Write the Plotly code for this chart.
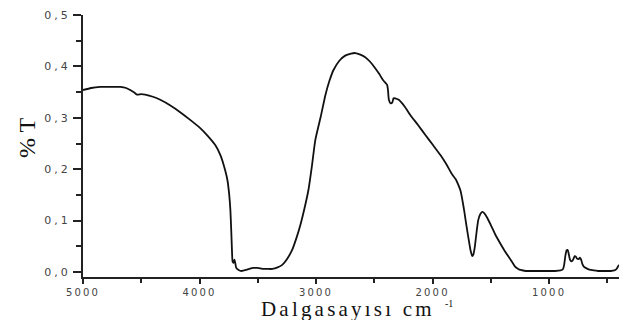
import plotly.graph_objects as go

# Wavenumber (cm^-1) and transmittance values
wavenumber = [5000, 4930, 4852, 4760, 4680, 4630, 4595, 4560, 4535, 4500, 4466, 4400, 4337,
              4250, 4166, 4080, 3994, 3930, 3865, 3820, 3780, 3760, 3745, 3735, 3728, 3722,
              3716, 3708, 3700, 3692, 3685, 3665, 3640, 3600, 3560, 3540, 3500, 3460, 3420,
              3375, 3330, 3290, 3250, 3205, 3170, 3135, 3100, 3065, 3035, 3006, 2960, 2920,
              2885, 2850, 2800, 2750, 2700, 2663, 2620, 2578, 2540, 2500, 2460, 2424, 2400,
              2390, 2383, 2375, 2360, 2345, 2335, 2320, 2290, 2240, 2190, 2125, 2060, 2000,
              1934, 1880, 1830, 1800, 1778, 1760, 1744, 1727, 1710, 1692, 1675, 1667, 1660,
              1650, 1640, 1634, 1620, 1608, 1590, 1573, 1555, 1530, 1495, 1460, 1420, 1375,
              1330, 1290, 1265, 1245, 1200, 1160, 1100, 1000, 950, 902, 880, 870, 860, 850,
              841, 832, 822, 812, 800, 790, 780, 770, 760, 746, 735, 725, 715, 700, 686,
              660, 640, 617, 580, 540, 500, 470, 440, 425, 415, 408, 402, 400]
transmittance = [0.354, 0.358, 0.360, 0.360, 0.360, 0.358, 0.354, 0.349, 0.345, 0.346, 0.345,
                 0.341, 0.335, 0.324, 0.311, 0.296, 0.280, 0.265, 0.247, 0.227, 0.198, 0.178,
                 0.150, 0.120, 0.082, 0.045, 0.020, 0.018, 0.024, 0.016, 0.008, 0.004, 0.002,
                 0.004, 0.007, 0.008, 0.008, 0.006, 0.006, 0.006, 0.009, 0.014, 0.025, 0.043,
                 0.065, 0.091, 0.123, 0.160, 0.207, 0.257, 0.302, 0.344, 0.372, 0.393, 0.411,
                 0.421, 0.425, 0.426, 0.423, 0.418, 0.410, 0.399, 0.386, 0.373, 0.367, 0.364,
                 0.355, 0.335, 0.328, 0.330, 0.338, 0.338, 0.335, 0.322, 0.305, 0.286, 0.266,
                 0.248, 0.228, 0.209, 0.189, 0.180, 0.169, 0.158, 0.140, 0.117, 0.091, 0.066,
                 0.043, 0.036, 0.031, 0.034, 0.045, 0.055, 0.082, 0.101, 0.113, 0.117, 0.114,
                 0.105, 0.089, 0.072, 0.056, 0.039, 0.024, 0.010, 0.006, 0.004, 0.002, 0.002,
                 0.002, 0.002, 0.002, 0.003, 0.006, 0.015, 0.032, 0.042, 0.043, 0.036, 0.025,
                 0.021, 0.022, 0.026, 0.031, 0.030, 0.026, 0.025, 0.028, 0.024, 0.016, 0.010,
                 0.008, 0.005, 0.004, 0.003, 0.002, 0.002, 0.002, 0.002, 0.003, 0.005, 0.008,
                 0.011, 0.013, 0.013]

x_tick_vals = [5000, 4000, 3000, 2000, 1000]
x_tick_text = ["5000", "4000", "3000", "2000", "1000"]
y_tick_vals = [0.0, 0.1, 0.2, 0.3, 0.4, 0.5]
y_tick_text = ["0,0", "0,1", "0,2", "0,3", "0,4", "0,5"]
x_minor_vals = [4500, 3500, 2500, 1500, 500]
y_minor_vals = [0.05, 0.15, 0.25, 0.35, 0.45]

x_title = "Dalgasayısı cm"
x_title_sup = "-1"
y_title = "% T"

serif = "Liberation Serif, Times New Roman, serif"


def spaced(t, px):
    return "<span style='letter-spacing:%spx'>%s</span>" % (px, t)


fig = go.Figure()
fig.add_trace(go.Scatter(x=wavenumber, y=transmittance, mode="lines",
                         line=dict(color="#111111", width=1.8, shape="spline", smoothing=0.5),
                         hoverinfo="skip", showlegend=False))

axis_common = dict(showgrid=False, zeroline=False, showline=True, linecolor="#222222",
                   linewidth=2, ticks="outside", tickcolor="#222222", tickwidth=1.5)

fig.update_xaxes(range=[5000, 400], tickmode="array", tickvals=x_tick_vals,
                 ticktext=[spaced(t, 2.2) for t in x_tick_text], ticklen=5,
                 tickfont=dict(family="DejaVu Sans, Arial", size=10, color="#444444"),
                 minor=dict(ticks="outside", tickvals=x_minor_vals, ticklen=4,
                            tickcolor="#222222", tickwidth=1.5),
                 **axis_common)
fig.update_yaxes(range=[-0.0097, 0.5], tickmode="array", tickvals=y_tick_vals,
                 ticktext=[spaced(t, 3) for t in y_tick_text], ticklen=8,
                 tickfont=dict(family="DejaVu Sans, Arial", size=11, color="#444444"),
                 minor=dict(ticks="outside", tickvals=y_minor_vals, ticklen=5,
                            tickcolor="#222222", tickwidth=1.5),
                 **axis_common)

fig.add_annotation(text=y_title, xref="paper", yref="paper", x=-0.1045, y=0.534,
                   xanchor="center", yanchor="middle", showarrow=False, textangle=-90,
                   font=dict(family=serif, size=24, color="#111111"))
fig.add_annotation(text=spaced(x_title, 3.2), xref="paper", yref="paper", x=0.494, y=-0.124,
                   xanchor="center", yanchor="middle", showarrow=False,
                   font=dict(family=serif, size=21, color="#111111"))
fig.add_annotation(text=x_title_sup, xref="paper", yref="paper", x=0.683, y=-0.101,
                   xanchor="center", yanchor="middle", showarrow=False,
                   font=dict(family=serif, size=10, color="#111111"))

fig.update_layout(width=619, height=320, margin=dict(l=83, r=0, t=15, b=43),
                  paper_bgcolor="white", plot_bgcolor="white")

fig.write_html("out.html")
